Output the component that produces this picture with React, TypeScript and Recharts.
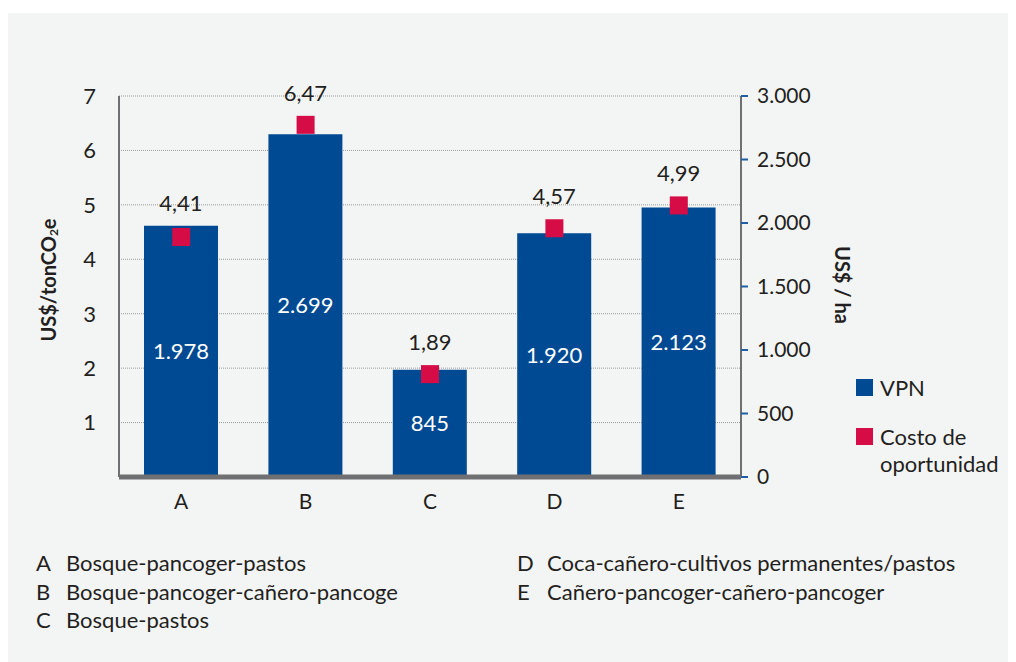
import { Bar, CartesianGrid, ComposedChart, LabelList, Scatter, XAxis, YAxis } from "recharts";

const categories = ["A", "B", "C", "D", "E"];
const vpn = [1978, 2699, 845, 1920, 2123];
const costo = [4.41, 6.47, 1.89, 4.57, 4.99];
const leftTicks = [1, 2, 3, 4, 5, 6, 7];
const rightTicks = [0, 500, 1000, 1500, 2000, 2500, 3000];
const descriptions = [
  ["A", "Bosque-pancoger-pastos"],
  ["B", "Bosque-pancoger-cañero-pancoge"],
  ["C", "Bosque-pastos"],
  ["D", "Coca-cañero-cultivos permanentes/pastos"],
  ["E", "Cañero-pancoger-cañero-pancoger"],
];

const BLUE = "#004a93";
const RED = "#d50c45";
const AXIS = "#707073";
const TEXT = "#231f20";
const FONT = "Lato, 'Open Sans', sans-serif";

const LEFT_MAX = 7;
const RIGHT_MAX = 3000;

const data = categories.map((c, i) => ({ cat: c, vpn: vpn[i], costo: costo[i] }));

const fmtThousands = (v: number): string =>
  String(v).replace(/\B(?=(\d{3})+(?!\d))/g, ".");

const fmtComma = (v: number): string => v.toFixed(2).replace(".", ",");

function Square(props: any) {
  const { cx, cy } = props;
  if (cx == null || cy == null) return null;
  return <rect x={cx - 9} y={cy - 9} width={18} height={18} fill={RED} />;
}

// label above bar/marker, whichever is higher
function CostoLabel(props: any) {
  const { x, y, width, height, index } = props;
  const v = vpn[index];
  const plotH = (height * RIGHT_MAX) / v;
  const base = y + height;
  const markerTop = base - (costo[index] / LEFT_MAX) * plotH - 9;
  const top = Math.min(y, markerTop);
  return (
    <text
      x={x + width / 2}
      y={top - 15}
      textAnchor="middle"
      fill={TEXT}
      fontSize={22}
      fontFamily={FONT}
    >
      {fmtComma(costo[index])}
    </text>
  );
}

export default function App() {
  return (
    <div
      style={{
        position: "relative",
        marginTop: 5,
        width: 1008,
        height: 649,
        background: "#f3f4f4",
        fontFamily: FONT,
        color: TEXT,
      }}
    >
      <ComposedChart
        width={1008}
        height={510}
        data={data}
        margin={{ top: 83, right: 0, left: 0, bottom: 0 }}
        barCategoryGap="20%"
      >
        <CartesianGrid
          yAxisId="left"
          vertical={false}
          stroke="#9a9a9a"
          strokeDasharray="1 1"
        />
        <XAxis
          dataKey="cat"
          axisLine={{ stroke: AXIS, strokeWidth: 5 }}
          tickLine={false}
          tickSize={0}
          tickMargin={17}
          height={46}
          tick={{ fill: TEXT, fontSize: 21, fontFamily: FONT }}
        />
        <YAxis
          yAxisId="left"
          orientation="left"
          domain={[0, LEFT_MAX]}
          ticks={leftTicks}
          width={111}
          axisLine={{ stroke: AXIS, strokeWidth: 2 }}
          tickLine={false}
          tickSize={0}
          tickMargin={23}
          tick={{ fill: TEXT, fontSize: 22, fontFamily: FONT }}
        />
        <YAxis
          yAxisId="right"
          orientation="right"
          domain={[0, RIGHT_MAX]}
          ticks={rightTicks}
          width={275}
          axisLine={{ stroke: AXIS, strokeWidth: 2 }}
          tickLine={{ stroke: "#1f5fa6", strokeWidth: 2 }}
          tickSize={7}
          tickMargin={9}
          tickFormatter={fmtThousands}
          tick={{ fill: TEXT, fontSize: 21, fontFamily: FONT }}
        />
        <Bar yAxisId="right" dataKey="vpn" fill={BLUE} barSize={74} isAnimationActive={false}>
          <LabelList
            dataKey="vpn"
            position="center"
            formatter={(v: any) => fmtThousands(Number(v))}
            fill="#ffffff"
            fontSize={22}
            fontFamily={FONT}
          />
          <LabelList dataKey="costo" content={<CostoLabel />} />
        </Bar>
        <Scatter yAxisId="left" dataKey="costo" shape={<Square />} isAnimationActive={false} />
      </ComposedChart>

      {/* axis titles */}
      <div
        style={{
          position: "absolute",
          left: 40,
          top: 267,
          transform: "translate(-50%, -50%) rotate(-90deg)",
          fontWeight: 700,
          fontSize: 20,
          whiteSpace: "nowrap",
        }}
      >
        US$/tonCO<sub style={{ fontSize: 12, verticalAlign: "-2px" }}>2</sub>e
      </div>
      <div
        style={{
          position: "absolute",
          left: 835,
          top: 272,
          transform: "translate(-50%, -50%) rotate(90deg)",
          fontWeight: 700,
          fontSize: 20,
          whiteSpace: "nowrap",
        }}
      >
        US$ / ha
      </div>

      {/* legend */}
      <div style={{ position: "absolute", left: 848, top: 366, fontSize: 22, lineHeight: "27px" }}>
        <div style={{ display: "flex", alignItems: "flex-start" }}>
          <span style={{ width: 17, height: 17, background: BLUE, marginRight: 7 }} />
          <span style={{ marginTop: -5 }}>VPN</span>
        </div>
        <div style={{ display: "flex", alignItems: "flex-start", marginTop: 27 }}>
          <span style={{ width: 17, height: 17, background: RED, marginRight: 7, flexShrink: 0 }} />
          <span style={{ marginTop: -5 }}>
            Costo de
            <br />
            oportunidad
          </span>
        </div>
      </div>

      {/* category descriptions */}
      {descriptions.map(([k, label], i) => {
        const col = i < 3 ? 0 : 1;
        const row = i < 3 ? i : i - 3;
        return (
          <div
            key={k}
            style={{
              position: "absolute",
              left: col === 0 ? 28 : 509,
              top: 536 + row * 28.5,
              fontSize: 22,
              whiteSpace: "nowrap",
              lineHeight: "28px",
            }}
          >
            <span style={{ display: "inline-block", width: 30 }}>{k}</span>
            {label}
          </div>
        );
      })}
    </div>
  );
}
